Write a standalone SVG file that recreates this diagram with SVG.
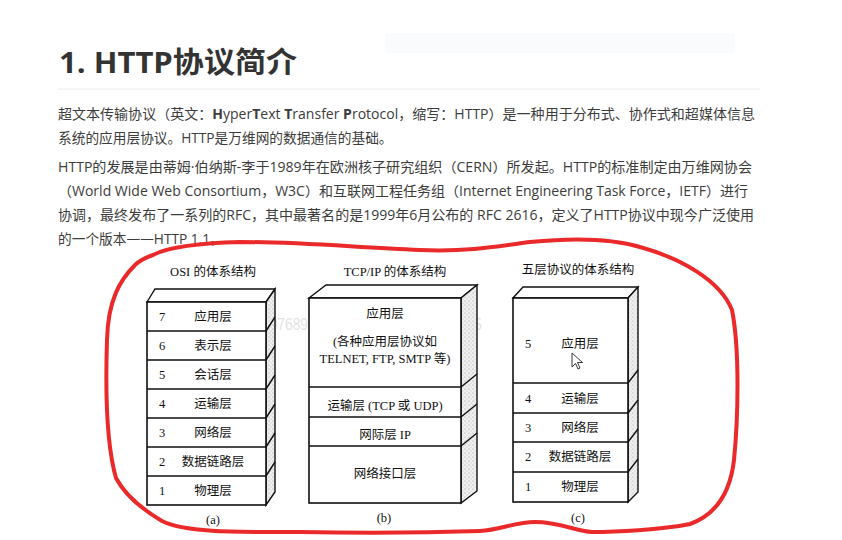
<svg xmlns="http://www.w3.org/2000/svg" width="842" height="540" viewBox="0 0 842 540">
<defs>
<pattern id="stip" width="4" height="4" patternUnits="userSpaceOnUse">
<rect width="4" height="4" fill="#efefef"/>
<circle cx="1" cy="1" r="0.6" fill="#9a9a9a"/>
<circle cx="3" cy="3" r="0.5" fill="#bbbbbb"/>
</pattern>
<style>
.title{font-family:"Open Sans","Noto Sans CJK SC",sans-serif;font-weight:bold;font-size:29px;fill:#333}
.p{font-family:"Open Sans","Noto Sans CJK SC",sans-serif;font-size:13.7px;fill:#3c3c3c}
.d{font-family:"Liberation Serif","Noto Sans CJK SC",serif;font-size:12.5px;fill:#111}
.dh{font-family:"Liberation Serif","Noto Sans CJK SC",serif;font-size:12.5px;fill:#111;text-anchor:middle}
.front{fill:#fff;stroke:#111;stroke-width:1.6}
.top{fill:#fff;stroke:#111;stroke-width:1.4}
.side{fill:url(#stip);stroke:#111;stroke-width:1.4}
.ln{stroke:#111;stroke-width:1.4;fill:none}
</style>
</defs>
<rect width="842" height="540" fill="#fff"/>
<rect x="385" y="33" width="350" height="20" fill="#fafbfc"/>

<g id="heading">
<text class="title" x="59" y="73" textLength="238" lengthAdjust="spacingAndGlyphs">1. HTTP协议简介</text>
<line x1="58" y1="89" x2="760" y2="89" stroke="#eaeaea" stroke-width="1"/>
</g>

<g id="para1">
<text class="p" x="58" y="119" textLength="697" lengthAdjust="spacingAndGlyphs">超文本传输协议（英文：<tspan font-weight="bold">H</tspan>yper<tspan font-weight="bold">T</tspan>ext <tspan font-weight="bold">T</tspan>ransfer <tspan font-weight="bold">P</tspan>rotocol，缩写：HTTP）是一种用于分布式、协作式和超媒体信息</text>
<text class="p" x="58" y="143">系统的应用层协议。HTTP是万维网的数据通信的基础。</text>
</g>

<g id="para2">
<text class="p" x="58" y="172" textLength="694" lengthAdjust="spacingAndGlyphs">HTTP的发展是由蒂姆·伯纳斯-李于1989年在欧洲核子研究组织（CERN）所发起。HTTP的标准制定由万维网协会</text>
<text class="p" x="58" y="196" textLength="690" lengthAdjust="spacingAndGlyphs">（World Wide Web Consortium，W3C）和互联网工程任务组（Internet Engineering Task Force，IETF）进行</text>
<text class="p" x="58" y="220" textLength="696" lengthAdjust="spacingAndGlyphs">协调，最终发布了一系列的RFC，其中最著名的是1999年6月公布的 RFC 2616，定义了HTTP协议中现今广泛使用</text>
<text class="p" x="58" y="244">的一个版本——HTTP 1.1。</text>
</g>

<text x="262" y="330" font-family="Liberation Sans,sans-serif" font-size="16" fill="#dcdcdc" opacity="0.8" textLength="220" lengthAdjust="spacingAndGlyphs">007689106c9913c18dec78d854195</text>

<g id="osi">
<text class="dh" x="213" y="276">OSI 的体系结构</text>
<polygon class="top" points="147,302 155,289 275,289 266,302"/>
<polygon class="side" points="266,302 275,289 275,492 266,505"/>
<rect class="front" x="147" y="302" width="119" height="203"/>
<path class="ln" d="M147 331H266M147 360H266M147 389H266M147 418H266M147 447H266M147 476H266"/>
<path class="ln" d="M266 331l9-14M266 360l9-14M266 389l9-14M266 418l9-14M266 447l9-14M266 476l9-14"/>
<text class="d" x="159" y="321">7</text><text class="dh" x="213" y="321">应用层</text>
<text class="d" x="159" y="350">6</text><text class="dh" x="213" y="350">表示层</text>
<text class="d" x="159" y="379">5</text><text class="dh" x="213" y="379">会话层</text>
<text class="d" x="159" y="408">4</text><text class="dh" x="213" y="408">运输层</text>
<text class="d" x="159" y="437">3</text><text class="dh" x="213" y="437">网络层</text>
<text class="d" x="159" y="466">2</text><text class="dh" x="213" y="466">数据链路层</text>
<text class="d" x="159" y="495">1</text><text class="dh" x="213" y="495">物理层</text>
<text class="dh" x="213" y="524">(a)</text>
</g>

<g id="tcpip">
<text class="dh" x="395" y="276">TCP/IP 的体系结构</text>
<polygon class="top" points="309,298 326,285 477,285 461,298"/>
<polygon class="side" points="461,298 477,285 477,491 461,503"/>
<rect class="front" x="309" y="298" width="152" height="205"/>
<path class="ln" d="M309 387H461M309 417H461M309 446H461"/>
<path class="ln" d="M461 387l16-13M461 417l16-13M461 446l16-13"/>
<text class="dh" x="385" y="318">应用层</text>
<text class="dh" x="385" y="346">(各种应用层协议如</text>
<text class="dh" x="385" y="363">TELNET, FTP, SMTP 等)</text>
<text class="dh" x="385" y="410">运输层 (TCP 或 UDP)</text>
<text class="dh" x="385" y="439">网际层 IP</text>
<text class="dh" x="385" y="478">网络接口层</text>
<text class="dh" x="384" y="522">(b)</text>
</g>

<g id="five">
<text class="dh" x="578" y="274">五层协议的体系结构</text>
<polygon class="top" points="513,298 523,287 638,287 628,298"/>
<polygon class="side" points="628,298 638,287 638,492 628,502"/>
<rect class="front" x="513" y="298" width="115" height="204"/>
<path class="ln" d="M513 383H628M513 413H628M513 442H628M513 472H628"/>
<path class="ln" d="M628 383l10-13M628 413l10-13M628 442l10-13M628 472l10-13"/>
<text class="d" x="525" y="348">5</text><text class="dh" x="580" y="348">应用层</text>
<text class="d" x="525" y="403">4</text><text class="dh" x="580" y="403">运输层</text>
<text class="d" x="525" y="432">3</text><text class="dh" x="580" y="432">网络层</text>
<text class="d" x="525" y="461">2</text><text class="dh" x="580" y="461">数据链路层</text>
<text class="d" x="525" y="491">1</text><text class="dh" x="580" y="491">物理层</text>
<text class="dh" x="578" y="522">(c)</text>
<path d="M572 353v14l3.5-3.5 2.5 5.5 2-1-2.5-5.5h5z" fill="#fff" stroke="#222" stroke-width="0.9"/>
</g>

<g id="connectors">
<path d="M153 255 C170 246,200 243,240 242 C300 242,350 247,420 250 C470 252,500 246,530 242 C570 238,610 238,640 247 C680 258,720 280,732 310 C740 350,738 420,734 460 C730 495,715 515,690 524 C660 530,615 532,592 532 C575 531,560 522,535 522 C515 522,500 530,480 531 C420 533,350 533,300 532 C240 532,185 533,162 521 C140 508,125 495,116 478 C108 450,105 400,107 340 C108 300,120 280,135 265 C140 260,147 257,153 255 Z" fill="none" stroke="#ea2a2a" stroke-width="4" stroke-linejoin="round"/>
</g>
</svg>
